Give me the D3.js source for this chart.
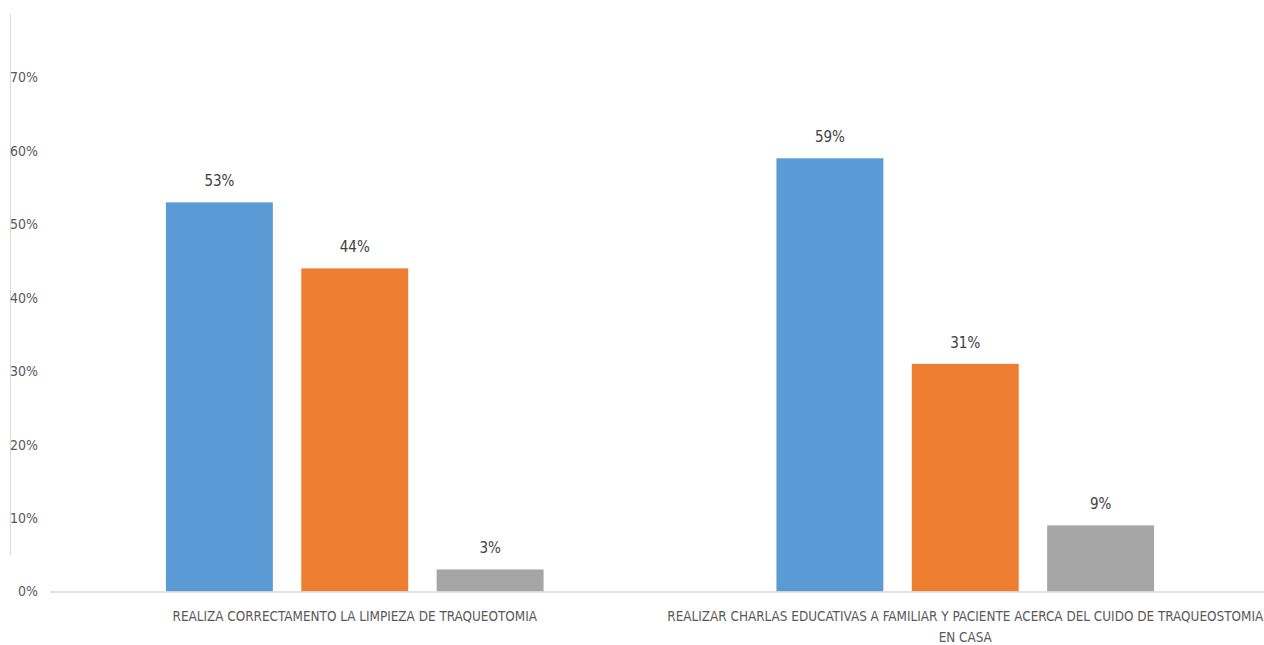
<!DOCTYPE html>
<html>
<head>
<meta charset="utf-8">
<script src="https://cdn.jsdelivr.net/npm/d3@7"></script>
<style>
  html, body { margin: 0; padding: 0; background: #ffffff; }
  svg { display: block; }
  text { font-family: "DejaVu Sans Condensed", "Liberation Sans", Arial, sans-serif; }
</style>
</head>
<body>
<svg id="chart" width="1264" height="645"></svg>
<script>
// Categories along the x axis
const categories = [
  "REALIZA CORRECTAMENTO LA LIMPIEZA DE TRAQUEOTOMIA",
  "REALIZAR CHARLAS EDUCATIVAS A FAMILIAR Y PACIENTE ACERCA DEL CUIDO DE TRAQUEOSTOMIA EN CASA"
];
// Series keys (three answers per category)
const seriesKeys = ["s1", "s2", "s3"];
const seriesColors = ["#5b9bd5", "#ed7d31", "#a5a5a5"];
// Percentage values per series, one per category
const series1 = [53, 59];
const series2 = [44, 31];
const series3 = [3, 9];
// Y-axis ticks
const yTicks = [0, 10, 20, 30, 40, 50, 60, 70];

const values = [series1, series2, series3];
const rows = categories.map((c, i) => ({
  category: c,
  bars: seriesKeys.map((k, j) => ({ key: k, value: values[j][i], color: seriesColors[j] }))
}));

const svg = d3.select("#chart");

const y = d3.scaleLinear().domain([0, 70]).range([591.5, 77.5]);
const x0 = d3.scaleBand().domain(categories).range([49.5, 1270.5]).padding(0);
const x1 = d3.scaleBand().domain(seriesKeys).range([0, x0.bandwidth()])
  .paddingInner(0.21).paddingOuter(0.86);

// Left vertical rule
svg.append("line")
  .attr("x1", 10.5).attr("x2", 10.5)
  .attr("y1", 14).attr("y2", 555)
  .attr("stroke", "#d9d9d9").attr("stroke-width", 1);

// Y-axis labels
const yAxis = d3.axisLeft(y).tickValues(yTicks).tickFormat(d => d + "%").tickSize(0).tickPadding(0);
const yg = svg.append("g").attr("transform", "translate(38,0)").call(yAxis);
yg.select(".domain").remove();
yg.selectAll("text")
  .attr("fill", "#595959")
  .style("font-size", "14px");

// Bars
const groups = svg.append("g").selectAll("g")
  .data(rows).join("g")
  .attr("transform", d => `translate(${x0(d.category)},0)`);

groups.selectAll("rect")
  .data(d => d.bars).join("rect")
  .attr("x", d => x1(d.key))
  .attr("width", x1.bandwidth())
  .attr("y", d => y(d.value))
  .attr("height", d => y(0) - y(d.value))
  .attr("fill", d => d.color);

// Value labels
groups.selectAll("text.val")
  .data(d => d.bars).join("text")
  .attr("class", "val")
  .attr("x", d => x1(d.key) + x1.bandwidth() / 2)
  .attr("y", d => y(d.value) - 16)
  .attr("text-anchor", "middle")
  .attr("fill", "#404040")
  .style("font-size", "15px")
  .text(d => d.value + "%");

// Baseline
svg.append("line")
  .attr("x1", 50).attr("x2", 1264)
  .attr("y1", 592).attr("y2", 592)
  .attr("stroke", "#d9d9d9").attr("stroke-width", 1.5);

// Category labels, wrapped to the band width
const xAxis = d3.axisBottom(x0).tickSize(0).tickPadding(0);
const xg = svg.append("g").attr("transform", "translate(0,621)").call(xAxis);
xg.select(".domain").remove();
xg.selectAll("text")
  .attr("fill", "#595959")
  .attr("dy", 0)
  .style("font-size", "13.4px")
  .each(function (d) {
    const t = d3.select(this);
    const words = d.split(" ");
    t.text(null);
    let line = [];
    let tspan = t.append("tspan").attr("x", 0).attr("dy", 0);
    for (const w of words) {
      line.push(w);
      tspan.text(line.join(" "));
      if (tspan.node().getComputedTextLength() > 600 && line.length > 1) {
        line.pop();
        tspan.text(line.join(" "));
        line = [w];
        tspan = t.append("tspan").attr("x", 0).attr("dy", "1.55em").text(w);
      }
    }
  });
</script>
</body>
</html>
